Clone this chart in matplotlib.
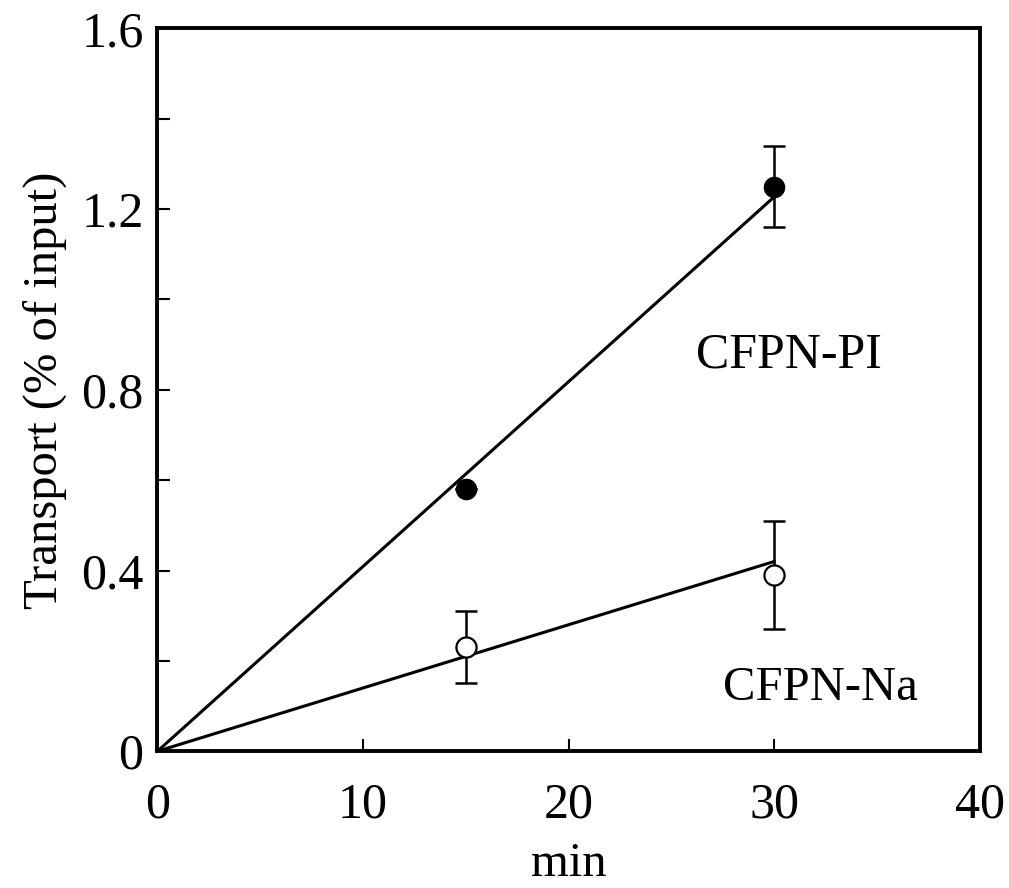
import matplotlib
matplotlib.use("Agg")
import matplotlib.pyplot as plt

plt.rcParams['font.family'] = ['Liberation Serif', 'DejaVu Serif']

# dados
minutos = [15, 30]
pi_vals = [0.58, 1.25]
pi_err = [0.0, 0.09]
na_vals = [0.23, 0.39]
na_err = [0.08, 0.12]

# retas ajustadas (passam pela origem)
fit_x = [0, 30]
pi_fit = [0, 1.227]
na_fit = [0, 0.42]

fig = plt.figure(figsize=(10.09, 8.88), dpi=100)
ax = fig.add_axes([0.156, 0.154, 0.815, 0.814])

ax.plot(fit_x, pi_fit, color="black", lw=2.2, zorder=2)
ax.plot(fit_x, na_fit, color="black", lw=2.2, zorder=2)

ax.errorbar(minutos, pi_vals, yerr=pi_err, fmt="none", ecolor="black",
            elinewidth=1.8, capsize=8, capthick=1.8, zorder=3)
ax.errorbar(minutos, na_vals, yerr=na_err, fmt="none", ecolor="black",
            elinewidth=1.8, capsize=8, capthick=1.8, zorder=3)

ax.plot(minutos, pi_vals, "o", ms=14.5, mfc="black", mec="black", zorder=4)
ax.plot(minutos, na_vals, "o", ms=14.5, mfc="white", mec="black", mew=1.6, zorder=4)

ax.text(26.2, 0.876, "CFPN-PI", fontsize=36, ha="left", va="center")
ax.text(27.5, 0.14, "CFPN-Na", fontsize=35, ha="left", va="center")

ax.set_xlim(0, 40)
ax.set_ylim(0, 1.6)
ax.set_xticks([0, 10, 20, 30, 40])
ax.set_yticks([0, 0.2, 0.4, 0.6, 0.8, 1.0, 1.2, 1.4, 1.6])
ax.set_yticklabels(["0", "", "0.4", "", "0.8", "", "1.2", "", "1.6"])

ax.tick_params(direction="in", length=9, width=1.5, labelsize=36,
               top=False, right=False)
ax.tick_params(axis="x", pad=22)
ax.tick_params(axis="y", pad=10)

for s in ax.spines.values():
    s.set_linewidth(2.8)

ax.set_xlabel("min", fontsize=35, labelpad=10)
ax.set_ylabel("Transport (% of input)", fontsize=35, labelpad=10)

fig.savefig("out.png", dpi=100)
